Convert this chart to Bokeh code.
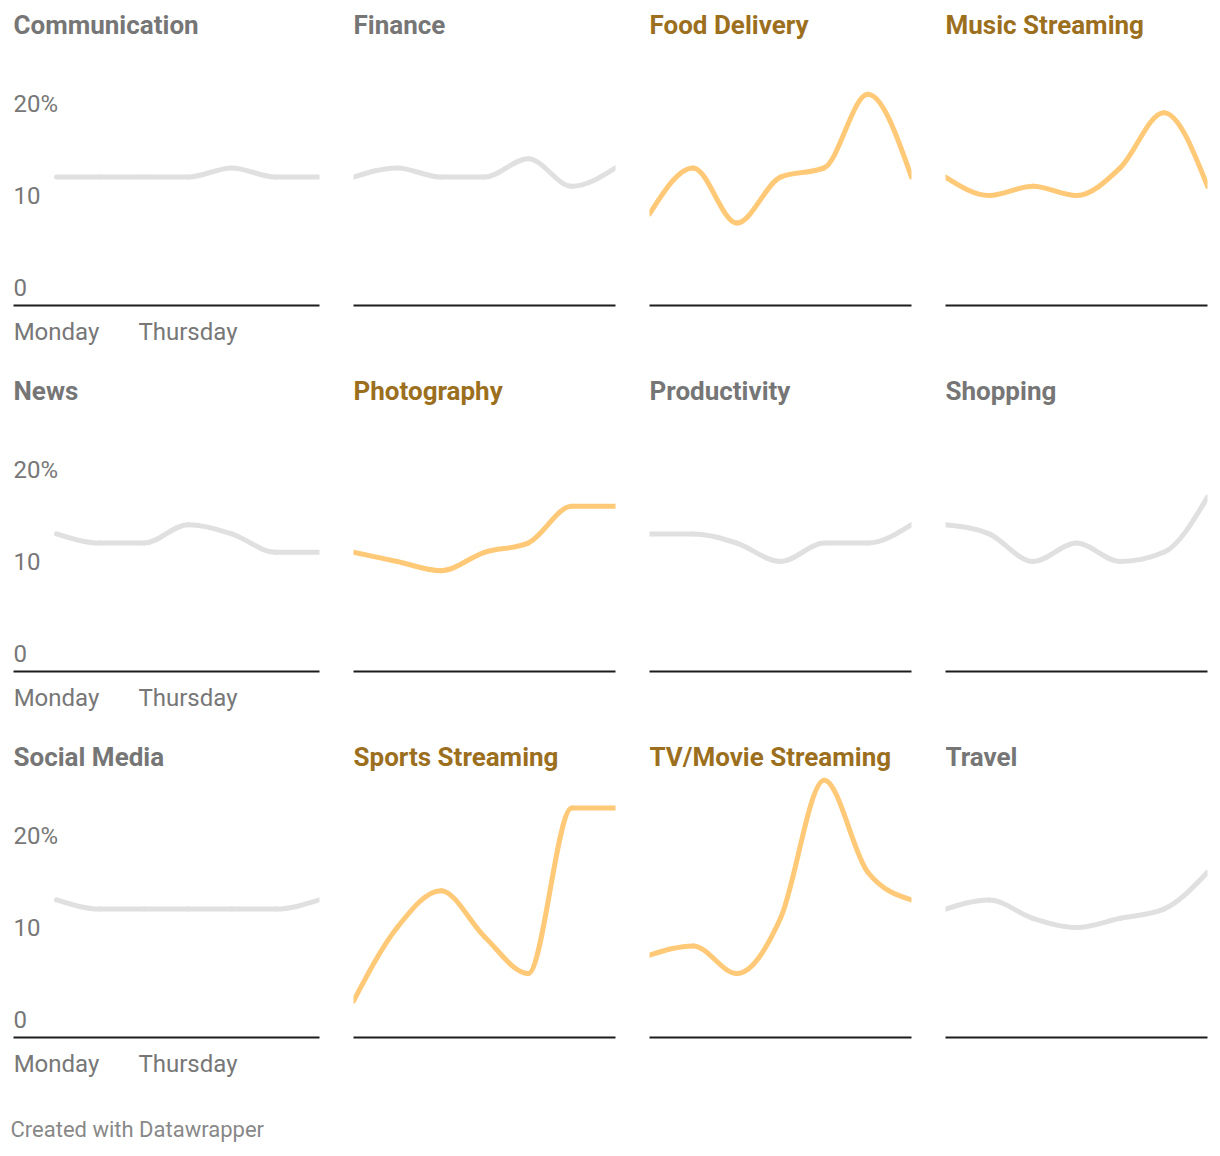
from bokeh.plotting import figure
from bokeh.models import Range1d, FixedTicker, Label
from bokeh.layouts import column, row
from bokeh.embed import file_html
from bokeh.resources import INLINE
from bokeh.core.properties import value

# ---------------- data ----------------
days = ["Monday", "Tuesday", "Wednesday", "Thursday", "Friday", "Saturday", "Sunday"]
x_label_days = ["Monday", "Thursday"]

categories = ["Communication", "Finance", "Food Delivery", "Music Streaming",
              "News", "Photography", "Productivity", "Shopping",
              "Social Media", "Sports Streaming", "TV/Movie Streaming", "Travel"]
highlighted = ["Food Delivery", "Music Streaming", "Photography",
               "Sports Streaming", "TV/Movie Streaming"]

communication = [12, 12, 12, 12, 13, 12, 12]
finance = [12, 13, 12, 12, 14, 11, 13]
food_delivery = [8, 13, 7, 12, 13, 21, 12]
music_streaming = [12, 10, 11, 10, 13, 19, 11]
news = [13, 12, 12, 14, 13, 11, 11]
photography = [11, 10, 9, 11, 12, 16, 16]
productivity = [13, 13, 12, 10, 12, 12, 14]
shopping = [14, 13, 10, 12, 10, 11, 17]
social_media = [13, 12, 12, 12, 12, 12, 13]
sports_streaming = [2, 10, 14, 9, 5, 23, 23]
tv_movie_streaming = [7, 8, 5, 11, 26, 16, 13]
travel = [12, 13, 11, 10, 11, 12, 16]

y_ticks = [0, 10, 20]
y_tick_labels = ["0", "10", "20%"]

series = dict(zip(categories, [communication, finance, food_delivery, music_streaming,
                               news, photography, productivity, shopping,
                               social_media, sports_streaming, tv_movie_streaming, travel]))

# ---------------- style ----------------
FONT = "Roboto"
ORANGE = "#ffc977"
GREY_LINE = "#e0e0e0"
TITLE_HI = "#9b6f1d"
TITLE_GREY = "#767676"
LABEL_GREY = "#777777"
AXIS = "#1d1d1d"

FRAME_H = 297
PX_PER_UNIT = 9.2
Y0 = -18 / PX_PER_UNIT
Y1 = Y0 + FRAME_H / PX_PER_UNIT


def monotone_segments(xs, ys):
    """d3 curveMonotoneX as cubic bezier segments."""
    n = len(xs)
    h = [xs[i + 1] - xs[i] for i in range(n - 1)]
    s = [(ys[i + 1] - ys[i]) / h[i] for i in range(n - 1)]
    sign = lambda v: -1 if v < 0 else 1
    t = [0.0] * n
    for i in range(1, n - 1):
        p = (s[i - 1] * h[i] + s[i] * h[i - 1]) / (h[i - 1] + h[i])
        t[i] = (sign(s[i - 1]) + sign(s[i])) * min(abs(s[i - 1]), abs(s[i]), 0.5 * abs(p))
    t[0] = (3 * s[0] - t[1]) / 2
    t[-1] = (3 * s[-1] - t[-2]) / 2
    seg = dict(x0=[], y0=[], x1=[], y1=[], cx0=[], cy0=[], cx1=[], cy1=[])
    for i in range(n - 1):
        dx = (xs[i + 1] - xs[i]) / 3
        seg["x0"].append(xs[i]); seg["y0"].append(ys[i])
        seg["x1"].append(xs[i + 1]); seg["y1"].append(ys[i + 1])
        seg["cx0"].append(xs[i] + dx); seg["cy0"].append(ys[i] + dx * t[i])
        seg["cx1"].append(xs[i + 1] - dx); seg["cy1"].append(ys[i + 1] - dx * t[i + 1])
    return seg


def panel(name, col, top):
    first = col == 0
    if first:
        fw = 306
        x_start = -43 / (263 / 6)
        mbl, mbr = 13, 17
    else:
        fw = 262
        x_start = 0
        mbl, mbr = 17, (4 if col == 3 else 17)
    p = figure(frame_width=fw, frame_height=FRAME_H,
               min_border_left=mbl, min_border_right=mbr,
               min_border_top=top, min_border_bottom=69,
               x_range=Range1d(x_start, 6), y_range=Range1d(Y0, Y1),
               output_backend="svg", toolbar_location=None, title=None,
               tools="")
    p.outline_line_color = None
    p.xgrid.visible = False
    p.ygrid.visible = False
    p.yaxis.visible = False
    ax = p.xaxis[0]
    ax.axis_line_color = AXIS
    ax.axis_line_width = 2
    ax.major_tick_line_color = None
    ax.minor_tick_line_color = None
    ax.major_label_text_font = FONT
    ax.major_label_text_font_size = "24px"
    ax.major_label_text_color = LABEL_GREY
    ax.major_label_standoff = 6
    if first:
        ticks = [days.index(d) for d in x_label_days]
        ax.ticker = FixedTicker(ticks=ticks)
        ax.major_label_overrides = {i: days[i] for i in ticks}
        p.text(x=[x_start] * len(y_ticks), y=y_ticks, text=y_tick_labels,
               text_align="left", text_baseline="middle",
               text_font=value(FONT), text_font_size="24px", text_color=LABEL_GREY)
    else:
        ax.ticker = FixedTicker(ticks=[])

    hi = name in highlighted
    seg = monotone_segments(list(range(len(days))), series[name])
    p.bezier(line_color=ORANGE if hi else GREY_LINE, line_width=5, line_cap="round", **seg)

    p.add_layout(Label(x=0, y=FRAME_H - 16, x_units="screen", y_units="screen",
                       text=name, text_font=FONT, text_font_size="26px",
                       text_font_style="bold", text_baseline="alphabetic",
                       text_color=TITLE_HI if hi else TITLE_GREY))
    return p


rows = []
for r in range(3):
    rows.append(row([panel(categories[r * 4 + c], c, 8 if r == 0 else 0) for c in range(4)]))

footer = figure(frame_width=1204, frame_height=45, min_border=0, min_border_left=8,
                output_backend="svg", toolbar_location=None, title=None, tools="",
                x_range=Range1d(0, 1), y_range=Range1d(0, 1))
footer.outline_line_color = None
footer.xaxis.visible = False
footer.yaxis.visible = False
footer.xgrid.visible = False
footer.ygrid.visible = False
footer.add_layout(Label(x=2, y=22, x_units="screen", y_units="screen",
                        text="Created with Datawrapper", text_font=FONT,
                        text_font_size="22px", text_color="#888888",
                        text_baseline="alphabetic"))

layout = column(rows + [footer])
open("out.html", "w").write(file_html(layout, INLINE))
